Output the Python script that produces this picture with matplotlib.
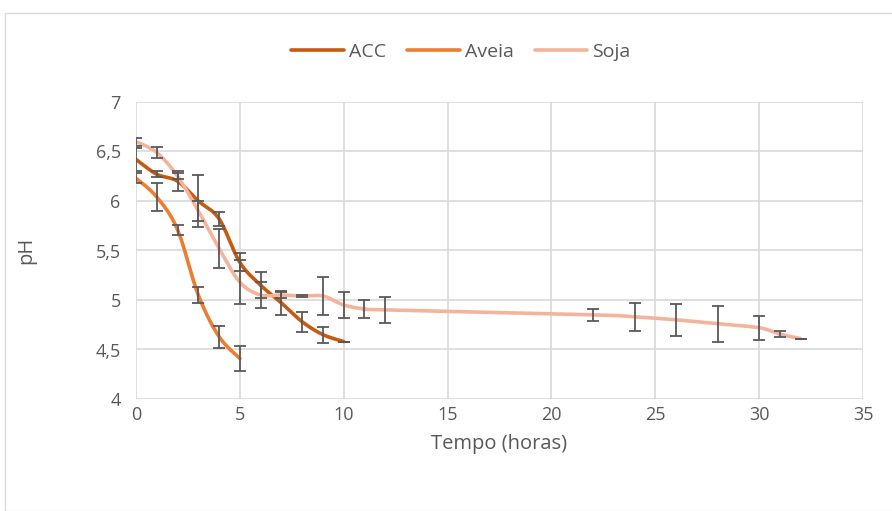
import numpy as np
import matplotlib
matplotlib.use("Agg")
import matplotlib.pyplot as plt
from matplotlib.patches import Rectangle

# ---- data ----
acc_x = [0, 1, 2, 3, 4, 5, 6, 7, 8, 9, 10]
acc_y = [6.42, 6.27, 6.20, 6.00, 5.82, 5.38, 5.15, 4.97, 4.78, 4.65, 4.58]
acc_e = [0.12, 0.03, 0.10, 0.26, 0.07, 0.09, 0.13, 0.12, 0.10, 0.08, 0.0]

aveia_x = [0, 1, 2, 3, 4, 5]
aveia_y = [6.23, 6.04, 5.71, 5.05, 4.63, 4.41]
aveia_e = [0.05, 0.14, 0.05, 0.08, 0.11, 0.13]

soja_x = [0, 1, 2, 3, 4, 5, 6, 7, 8, 9, 10, 11, 12, 22, 24, 26, 28, 30, 31, 32]
soja_y = [6.60, 6.49, 6.25, 5.90, 5.52, 5.18, 5.05, 5.05, 5.04, 5.04, 4.95, 4.91, 4.90,
          4.85, 4.83, 4.80, 4.76, 4.72, 4.655, 4.61]
soja_e = [0.04, 0.06, 0.03, 0.10, 0.20, 0.22, 0.13, 0.03, 0.01, 0.19, 0.13, 0.09, 0.13,
          0.06, 0.14, 0.16, 0.18, 0.12, 0.03, 0.0]

series_names = ["ACC", "Aveia", "Soja"]
colors = ["#C55A11", "#ED7D31", "#F4B49C"]

xticks = [0, 5, 10, 15, 20, 25, 30, 35]
yticks = [4, 4.5, 5, 5.5, 6, 6.5, 7]
ytick_labels = ["4", "4,5", "5", "5,5", "6", "6,5", "7"]


def smooth(xs, ys, n=30):
    xs = np.asarray(xs, float)
    ys = np.asarray(ys, float)
    P = np.column_stack([xs, ys])
    m = len(P)
    out = [P[0]]
    t = np.linspace(0, 1, n)[1:]
    for i in range(m - 1):
        p0 = P[i - 1] if i > 0 else P[i]
        p1 = P[i]
        p2 = P[i + 1]
        p3 = P[i + 2] if i + 2 < m else P[i + 1]
        c1 = p1 + (p2 - p0) / 6.0
        c2 = p2 - (p3 - p1) / 6.0
        for tt in t:
            b = ((1 - tt) ** 3) * p1 + 3 * ((1 - tt) ** 2) * tt * c1 + 3 * (1 - tt) * tt ** 2 * c2 + tt ** 3 * p2
            out.append(b)
    out = np.array(out)
    return out[:, 0], out[:, 1]


plt.rcParams['font.family'] = ['Open Sans', 'DejaVu Sans']
fig = plt.figure(figsize=(8.92, 5.11), dpi=100)
fig.patches.append(Rectangle((5 / 892, 0), 1, 1 - 13 / 511, transform=fig.transFigure,
                             fill=False, edgecolor="#D9D9D9", linewidth=1.0))

ax = fig.add_axes([136 / 892, 1 - 399 / 511, 727 / 892, 297 / 511])
ax.set_xlim(0, 35)
ax.set_ylim(4, 7)
ax.set_xticks(xticks)
ax.set_yticks(yticks)
ax.set_yticklabels(ytick_labels)
ax.grid(True, color="#D9D9D9", linewidth=1.2)
ax.set_axisbelow(True)
for s in ax.spines.values():
    s.set_visible(False)
ax.tick_params(axis="both", length=0, labelsize=13, labelcolor="#595959")
ax.tick_params(axis="y", pad=11)
ax.tick_params(axis="x", pad=5)
ax.set_xlabel("Tempo (horas)", fontsize=14.5, color="#595959", labelpad=7)
ax.set_ylabel("pH", fontsize=14.5, color="#595959")
ax.yaxis.set_label_coords((36 - 136) / 727, 0.5)

data = [(acc_x, acc_y, acc_e), (aveia_x, aveia_y, aveia_e), (soja_x, soja_y, soja_e)]
handles = []
for (xs, ys, es), name, c in zip(data, series_names, colors):
    sx, sy = smooth(xs, ys)
    h, = ax.plot(sx, sy, color=c, linewidth=2.6, solid_capstyle="round", label=name, zorder=3)
    handles.append(h)
for (xs, ys, es) in data:
    ax.errorbar(xs, ys, yerr=es, fmt="none", ecolor="#595959", elinewidth=1.3,
                capsize=4.3, capthick=1.3, zorder=4)

fig.legend(handles=handles, labels=series_names, loc="center", bbox_to_anchor=(461 / 892, 1 - 52 / 511),
           ncol=3, frameon=False, fontsize=14, handlelength=2.7, columnspacing=1.1,
           handletextpad=0.25, labelcolor="#595959", borderpad=0)

fig.savefig("out.png", dpi=100)
